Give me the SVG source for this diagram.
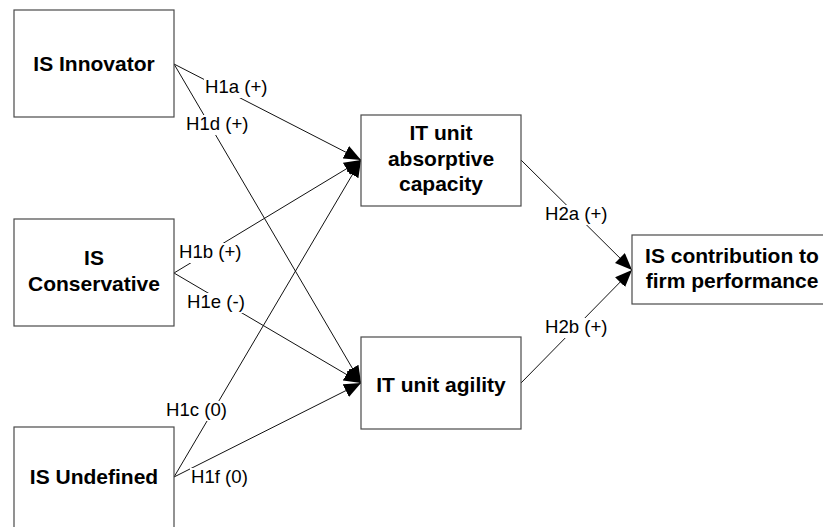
<svg xmlns="http://www.w3.org/2000/svg" width="823" height="527" viewBox="0 0 823 527">
<style>
.box{fill:#fff;stroke:#4a4a4a;stroke-width:1.2}
.bt{font-family:"Liberation Sans",Arial,sans-serif;font-weight:bold;font-size:21px;fill:#000;text-anchor:middle}
.lt{font-family:"Liberation Sans",Arial,sans-serif;font-size:18.6px;fill:#000}
.ln{stroke:#111;stroke-width:1;fill:none;marker-end:url(#ah)}
.lb{fill:#fff}
</style>
<defs>
<marker id="ah" markerUnits="userSpaceOnUse" markerWidth="18" markerHeight="14" refX="17" refY="7" orient="auto">
<path d="M0,0 L17,7 L0,14 z" fill="#000"/>
</marker>
</defs>
<rect width="823" height="527" fill="#fff"/>
<g id="connectors">
<line class="ln" x1="174" y1="64" x2="361" y2="160"/>
<line class="ln" x1="174" y1="64" x2="361" y2="383"/>
<line class="ln" x1="174" y1="273" x2="361" y2="160"/>
<line class="ln" x1="174" y1="273" x2="361" y2="383"/>
<line class="ln" x1="174" y1="477" x2="361" y2="160"/>
<line class="ln" x1="174" y1="477" x2="361" y2="383"/>
<line class="ln" x1="521" y1="160" x2="632" y2="270"/>
<line class="ln" x1="521" y1="383" x2="632" y2="270"/>
<g id="labels">
<rect class="lb" x="204" y="78" width="66" height="20"/><text class="lt" x="205" y="93">H1a (+)</text>
<rect class="lb" x="185" y="115" width="66" height="20"/><text class="lt" x="186" y="130">H1d (+)</text>
<rect class="lb" x="178" y="243" width="66" height="20"/><text class="lt" x="179" y="258">H1b (+)</text>
<rect class="lb" x="186" y="293" width="61" height="20"/><text class="lt" x="187" y="308">H1e (-)</text>
<rect class="lb" x="165" y="401" width="64" height="20"/><text class="lt" x="166" y="416">H1c (0)</text>
<rect class="lb" x="190" y="468" width="60" height="20"/><text class="lt" x="191" y="483">H1f (0)</text>
<rect class="lb" x="544" y="205" width="66" height="20"/><text class="lt" x="545" y="220">H2a (+)</text>
<rect class="lb" x="544" y="318" width="66" height="20"/><text class="lt" x="545" y="333">H2b (+)</text>
</g>
</g>
<g id="is-innovator">
<rect class="box" x="14" y="10" width="160" height="107"/>
<text class="bt" x="94" y="71">IS Innovator</text>
</g>
<g id="is-conservative">
<rect class="box" x="14" y="219" width="160" height="107"/>
<text class="bt" x="94" y="265">IS</text>
<text class="bt" x="94" y="291">Conservative</text>
</g>
<g id="is-undefined">
<rect class="box" x="14" y="427" width="160" height="107"/>
<text class="bt" x="94" y="484">IS Undefined</text>
</g>
<g id="absorptive-capacity">
<rect class="box" x="361" y="115" width="160" height="91"/>
<text class="bt" x="441" y="140">IT unit</text>
<text class="bt" x="441" y="166">absorptive</text>
<text class="bt" x="441" y="191">capacity</text>
</g>
<g id="agility">
<rect class="box" x="361" y="337" width="160" height="92"/>
<text class="bt" x="441" y="392">IT unit agility</text>
</g>
<g id="contribution">
<rect class="box" x="632" y="235" width="200" height="69"/>
<text class="bt" x="732" y="263">IS contribution to</text>
<text class="bt" x="732" y="288">firm performance</text>
</g>
</svg>
